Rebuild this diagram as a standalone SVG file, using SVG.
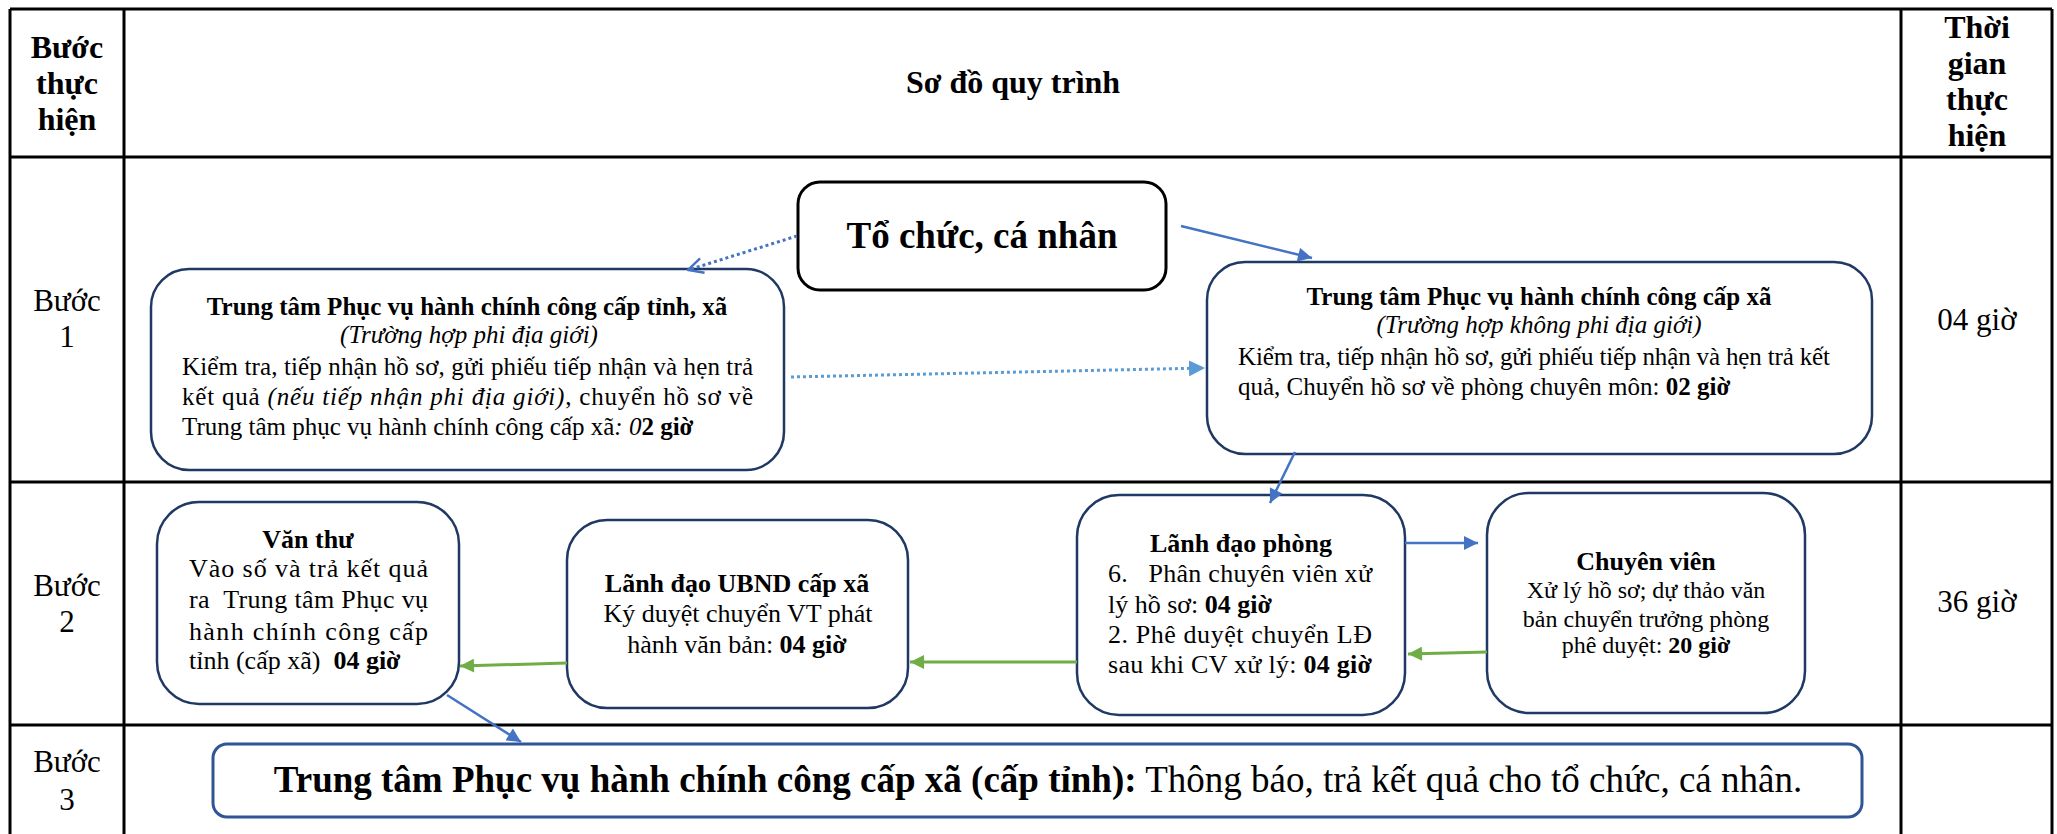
<svg xmlns="http://www.w3.org/2000/svg" width="2057" height="834" viewBox="0 0 2057 834">
<style>
text{font-family:"Liberation Serif","Times New Roman",serif;fill:#000}
.hd{font-size:32px;font-weight:bold}
.st{font-size:31px}
.b25{font-size:25px}
.b26{font-size:26px}
.b24{font-size:24px}
.bold{font-weight:bold}
.it{font-style:italic}
.c{text-anchor:middle}
.grid{stroke:#000;stroke-width:3;fill:none}
.nav{fill:#fff;stroke:#1F3864;stroke-width:2.5}
.blk{fill:#fff;stroke:#000;stroke-width:3}
.s3{fill:#fff;stroke:#2F5597;stroke-width:3}
.ab{stroke:#4472C4;stroke-width:2.5;fill:none}
.ag{stroke:#70AD47;stroke-width:3;fill:none}
.dot{stroke:#4472C4;stroke-width:3;stroke-dasharray:3 3;fill:none}
.dotl{stroke:#5B9BD5;stroke-width:3;stroke-dasharray:3 3;fill:none}
</style>
<defs>
<marker id="mb" viewBox="0 0 10 10" refX="10" refY="5" markerWidth="16" markerHeight="14" markerUnits="userSpaceOnUse" orient="auto"><path d="M0,0 L10,5 L0,10 z" fill="#4472C4"/></marker>
<marker id="ml" viewBox="0 0 10 10" refX="10" refY="5" markerWidth="16" markerHeight="16" markerUnits="userSpaceOnUse" orient="auto"><path d="M0,0 L10,5 L0,10 z" fill="#5B9BD5"/></marker>
<marker id="mg" viewBox="0 0 10 10" refX="10" refY="5" markerWidth="16" markerHeight="14" markerUnits="userSpaceOnUse" orient="auto"><path d="M0,0 L10,5 L0,10 z" fill="#70AD47"/></marker>
<marker id="mo" viewBox="-1 -1 12 12" refX="10" refY="5" markerWidth="18" markerHeight="18" markerUnits="userSpaceOnUse" orient="auto"><path d="M0,0 L10,5 L0,10" fill="none" stroke="#4472C4" stroke-width="1.6"/></marker>
</defs>
<rect width="2057" height="834" fill="#fff"/>
<g id="table">
<path class="grid" d="M10,9 H2052 M10,157 H2052 M10,482 H2052 M10,725 H2052 M10,9 V834 M124,9 V834 M1901,9 V834 M2052,9 V834"/>
<text class="hd c" x="67" y="58">Bước</text>
<text class="hd c" x="67" y="94">thực</text>
<text class="hd c" x="67" y="130">hiện</text>
<text class="hd c" x="1013" y="93">Sơ đồ quy trình</text>
<text class="hd c" x="1977" y="38">Thời</text>
<text class="hd c" x="1977" y="74">gian</text>
<text class="hd c" x="1977" y="110">thực</text>
<text class="hd c" x="1977" y="146">hiện</text>
<text class="st c" x="67" y="311">Bước</text>
<text class="st c" x="67" y="347">1</text>
<text class="st c" x="67" y="596">Bước</text>
<text class="st c" x="67" y="632">2</text>
<text class="st c" x="67" y="772">Bước</text>
<text class="st c" x="67" y="810">3</text>
<text class="st c" x="1977" y="330">04 giờ</text>
<text class="st c" x="1977" y="612">36 giờ</text>
</g>
<g id="n-tochuc">
<rect class="blk" x="798" y="182" width="368" height="108" rx="22"/>
<text class="bold c" style="font-size:37px" x="982" y="248">Tổ chức, cá nhân</text>
</g>
<g id="n-tinh">
<rect class="nav" x="151" y="269" width="633" height="201" rx="38"/>
<text class="b25 bold c" x="467" y="315">Trung tâm Phục vụ hành chính công cấp tỉnh, xã</text>
<text class="b25 it c" x="469" y="343">(Trường hợp phi địa giới)</text>
<text class="b25" x="182" y="375" textLength="571" lengthAdjust="spacing">Kiểm tra, tiếp nhận hồ sơ, gửi phiếu tiếp nhận và hẹn trả</text>
<text class="b25" x="182" y="405" textLength="571" lengthAdjust="spacing">kết quả <tspan class="it">(nếu tiếp nhận phi địa giới)</tspan>, chuyển hồ sơ về</text>
<text class="b25" x="182" y="435">Trung tâm phục vụ hành chính công cấp xã<tspan class="it">: 0</tspan><tspan class="bold">2 giờ</tspan></text>
</g>
<g id="n-xa">
<rect class="nav" x="1207" y="262" width="665" height="192" rx="38"/>
<text class="b25 bold c" x="1539" y="305">Trung tâm Phục vụ hành chính công cấp xã</text>
<text class="b25 it c" x="1539" y="333">(Trường hợp không phi địa giới)</text>
<text class="b25" x="1238" y="365" textLength="592" lengthAdjust="spacing">Kiểm tra, tiếp nhận hồ sơ, gửi phiếu tiếp nhận và hẹn trả kết</text>
<text class="b25" x="1238" y="395">quả, Chuyển hồ sơ về phòng chuyên môn: <tspan class="bold">02 giờ</tspan></text>
</g>
<g id="n-vanthu">
<rect class="nav" x="157" y="502" width="302" height="202" rx="42"/>
<text class="b26 bold c" x="308" y="548">Văn thư</text>
<text class="b26" x="189" y="577" textLength="239" lengthAdjust="spacing">Vào số và trả kết quả</text>
<text class="b26" x="189" y="608" textLength="239" lengthAdjust="spacing" xml:space="preserve">ra  Trung tâm Phục vụ</text>
<text class="b26" x="189" y="640" textLength="239" lengthAdjust="spacing">hành chính công cấp</text>
<text class="b26" x="189" y="669" xml:space="preserve">tỉnh (cấp xã)  <tspan class="bold">04 giờ</tspan></text>
</g>
<g id="n-ubnd">
<rect class="nav" x="567" y="520" width="341" height="188" rx="40"/>
<text class="b26 bold c" x="737" y="592">Lãnh đạo UBND cấp xã</text>
<text class="b26 c" x="738" y="622">Ký duyệt chuyển VT phát</text>
<text class="b26 c" x="737" y="653">hành văn bản: <tspan class="bold">04 giờ</tspan></text>
</g>
<g id="n-ldphong">
<rect class="nav" x="1077" y="495" width="328" height="220" rx="42"/>
<text class="b26 bold c" x="1241" y="552">Lãnh đạo phòng</text>
<text class="b26" x="1108" y="582" textLength="264" lengthAdjust="spacing" xml:space="preserve">6.   Phân chuyên viên xử</text>
<text class="b26" x="1108" y="613">lý hồ sơ: <tspan class="bold">04 giờ</tspan></text>
<text class="b26" x="1108" y="643" textLength="264" lengthAdjust="spacing">2. Phê duyệt chuyển LĐ</text>
<text class="b26" x="1108" y="673" textLength="264" lengthAdjust="spacing">sau khi CV xử lý: <tspan class="bold">04 giờ</tspan></text>
</g>
<g id="n-chuyenvien">
<rect class="nav" x="1487" y="493" width="318" height="220" rx="42"/>
<text class="b26 bold c" x="1646" y="570">Chuyên viên</text>
<text class="b24 c" x="1646" y="598">Xử lý hồ sơ; dự thảo văn</text>
<text class="b24 c" x="1646" y="627">bản chuyển trưởng phòng</text>
<text class="b24 c" x="1646" y="653">phê duyệt: <tspan class="bold">20 giờ</tspan></text>
</g>
<g id="n-buoc3">
<rect class="s3" x="213" y="744" width="1649" height="73" rx="14"/>
<text class="c" style="font-size:37px" x="1038" y="792"><tspan class="bold">Trung tâm Phục vụ hành chính công cấp xã (cấp tỉnh):</tspan> Thông báo, trả kết quả cho tổ chức, cá nhân.</text>
</g>
<g id="connectors">
<path class="dot" d="M797,236 L688,270" marker-end="url(#mo)"/>
<path class="ab" d="M1181,226 L1312,258" marker-end="url(#mb)"/>
<path class="dotl" d="M791,377 L1205,368" marker-end="url(#ml)"/>
<path class="ab" d="M1295,452 L1270,503" marker-end="url(#mb)"/>
<path class="ab" d="M1405,543 L1478,543" marker-end="url(#mb)"/>
<path class="ag" d="M1487,652 L1408,654" marker-end="url(#mg)"/>
<path class="ag" d="M1077,662 L910,662" marker-end="url(#mg)"/>
<path class="ag" d="M567,663 L460,666" marker-end="url(#mg)"/>
<path class="ab" d="M447,695 L521,742" marker-end="url(#mb)"/>
</g>
</svg>
